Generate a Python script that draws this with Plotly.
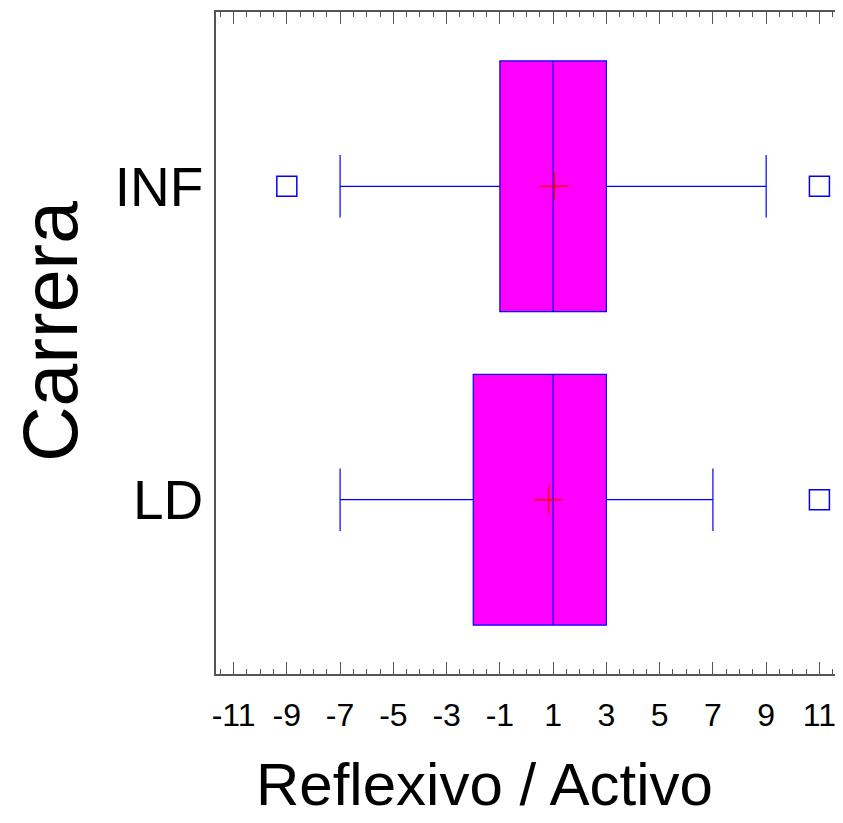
import plotly.graph_objects as go

categories = ["INF", "LD"]
q1 = [-1, -2]
median = [1, 1]
q3 = [3, 3]
lower_whisker = [-7, -7]
upper_whisker = [9, 7]
means = [1.05, 0.83]
outliers_x = [[-9, 11], [11]]
x_tick_vals = list(range(-11, 12, 2))
x_tick_text = [str(v) for v in x_tick_vals]

BLUE = "#0000FF"
MAGENTA = "#FF00FF"
AXIS = "#555555"
FONT = "Liberation Sans, Arial, sans-serif"

# page body has an 8px default margin; work in figure pixel coordinates
W, H = 835, 815
L, R, T, B = 208, 6, 2, 149
pw, ph = W - L - R, H - T - B


def px_to_paper(xp, yp):
    return (xp - L) / pw, (H - B - yp) / ph


fig = go.Figure()
for i, cat in enumerate(categories):
    fig.add_trace(go.Box(
        y=[cat], q1=[q1[i]], median=[median[i]], q3=[q3[i]],
        lowerfence=[lower_whisker[i]], upperfence=[upper_whisker[i]],
        orientation="h", boxpoints=False, width=0.8, whiskerwidth=0.25,
        fillcolor=MAGENTA, line=dict(color=BLUE, width=1.2),
        hoverinfo="skip",
    ))
    fig.add_trace(go.Scatter(
        x=outliers_x[i], y=[cat] * len(outliers_x[i]), mode="markers",
        marker=dict(symbol="square-open", size=20, color=BLUE,
                    line=dict(color=BLUE, width=1.5)),
    ))
    fig.add_trace(go.Scatter(
        x=[means[i]], y=[cat], mode="markers",
        marker=dict(symbol="cross-thin", size=20, color="red",
                    line=dict(color="red", width=1.5)),
    ))

xt_x, xt_y = px_to_paper(484 - 8, 785 - 8)
yt_x, yt_y = px_to_paper(50 - 8, 331 - 8)

fig.update_layout(
    width=W, height=H, autosize=False,
    margin=dict(l=L, r=R, t=T, b=B, pad=0),
    paper_bgcolor="white", plot_bgcolor="white",
    showlegend=False,
    font=dict(family=FONT, color="black"),
    xaxis=dict(
        range=[-11.66, 11.66], tickvals=x_tick_vals, ticktext=x_tick_text,
        ticks="inside", ticklen=12, tickwidth=1.2, tickcolor=AXIS,
        mirror="allticks", showline=True, linecolor=AXIS, linewidth=1.5,
        showgrid=False, zeroline=False,
        tickfont=dict(size=32, family=FONT, color="black"),
        ticklabelstandoff=12,
        minor=dict(tick0=-11, dtick=0.5, ticks="inside", ticklen=5,
                   tickwidth=1.2, tickcolor=AXIS, showgrid=False),
    ),
    yaxis=dict(
        type="category", categoryorder="array", categoryarray=["LD", "INF"],
        range=[-0.556, 1.556],
        showline=True, linecolor=AXIS, linewidth=1.5, mirror=True,
        ticks="", showgrid=False, zeroline=False,
        tickfont=dict(size=55, family=FONT, color="black"),
        ticklabelstandoff=0,
    ),
    annotations=[
        dict(text="Reflexivo / Activo", x=xt_x, y=xt_y, xref="paper", yref="paper",
             xanchor="center", yanchor="middle", showarrow=False,
             font=dict(size=60, family=FONT, color="black")),
        dict(text="Carrera", x=yt_x, y=yt_y, xref="paper", yref="paper",
             xanchor="center", yanchor="middle", textangle=-90, showarrow=False,
             font=dict(size=77, family=FONT, color="black")),
    ],
)

fig.write_html("out.html")
